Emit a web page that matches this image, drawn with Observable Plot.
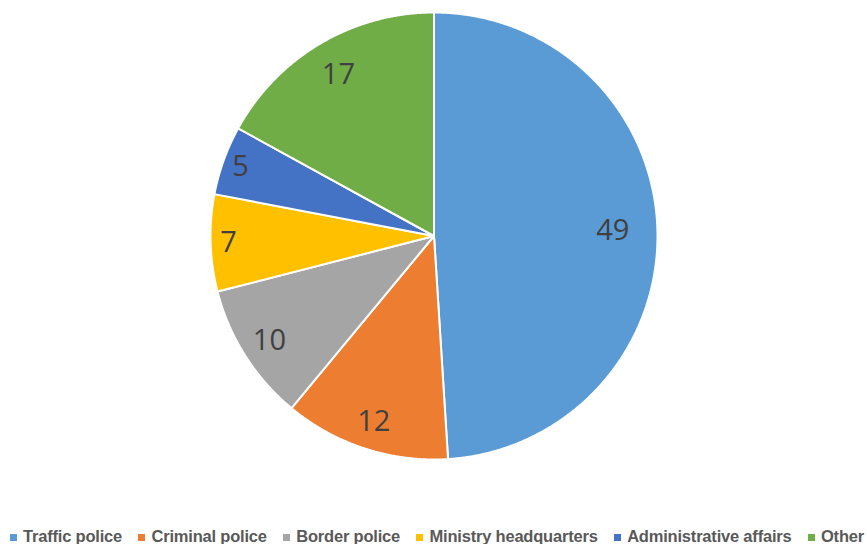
<!DOCTYPE html>
<html>
<head>
<meta charset="utf-8">
<script src="https://cdn.jsdelivr.net/npm/d3@7"></script>
<script src="https://cdn.jsdelivr.net/npm/@observablehq/plot@0.6"></script>
<style>
  body { margin: 0; background: #fff; }
  #chart { position: relative; width: 867px; height: 544px; }
  #legend { position: absolute; left: 10px; top: 527px; width: 854px; display: flex; justify-content: space-between;
            font: bold 16.5px "Liberation Sans", Arial, sans-serif; letter-spacing: -0.2px; color: #595959; line-height: 18px; white-space: nowrap; }
  #legend .sw { display: inline-block; width: 7px; height: 7px; margin-right: 6px; vertical-align: 1px; }
</style>
</head>
<body>
<div id="chart"></div>
<script>
const categories = ["Traffic police", "Criminal police", "Border police", "Ministry headquarters", "Administrative affairs", "Other"];
const values = [49, 12, 10, 7, 5, 17];
const colors = ["#5B9BD5", "#ED7D31", "#A5A5A5", "#FFC000", "#4472C4", "#70AD47"];

const total = d3.sum(values);
const arcs = d3.pie().sort(null).value(d => d.value)(categories.map((c, i) => ({category: c, value: values[i], color: colors[i]})));

const pt = a => [Math.sin(a), -Math.cos(a)];
const slices = arcs.map(a => {
  const ring = [[0, 0]];
  const n = Math.max(2, Math.ceil((a.endAngle - a.startAngle) / 0.005));
  for (let k = 0; k <= n; k++) ring.push(pt(a.startAngle + (a.endAngle - a.startAngle) * k / n));
  ring.push([0, 0]);
  return {type: "Feature", properties: a.data, geometry: {type: "Polygon", coordinates: [ring]}};
});
const circle = [];
for (let k = 0; k <= 720; k++) circle.push(pt(2 * Math.PI * k / 720));
const outline = {type: "Feature", geometry: {type: "Polygon", coordinates: [circle]}};

// "best fit"-like label placement: narrow slices push their labels toward the rim
const labels = arcs.map(a => {
  const share = a.data.value / total;
  const mid = (a.startAngle + a.endAngle) / 2;
  const f = share > 0.4 ? 0.8 : share < 0.08 ? 0.92 : share < 0.15 ? 0.872 : 0.84;
  const [x, y] = pt(mid);
  return {x: x * f, y: y * f, text: String(a.data.value)};
});

const svg = Plot.plot({
  width: 867,
  height: 515,
  marginTop: 12,
  marginBottom: 56,
  marginLeft: 210,
  marginRight: 210,
  projection: {type: "identity", domain: outline},
  marks: [
    Plot.geo(slices, {fill: d => d.properties.color, stroke: "white", strokeWidth: 2}),
    Plot.text(labels, {x: "x", y: "y", text: "text", fontSize: 29, fill: "#404040", fontFamily: "Open Sans, sans-serif"})
  ]
});
const chart = document.getElementById("chart");
chart.appendChild(svg);

const legend = document.createElement("div");
legend.id = "legend";
categories.forEach((c, i) => {
  const item = document.createElement("span");
  const sw = document.createElement("span");
  sw.className = "sw";
  sw.style.background = colors[i];
  item.appendChild(sw);
  item.appendChild(document.createTextNode(c));
  legend.appendChild(item);
});
chart.appendChild(legend);
</script>
</body>
</html>
